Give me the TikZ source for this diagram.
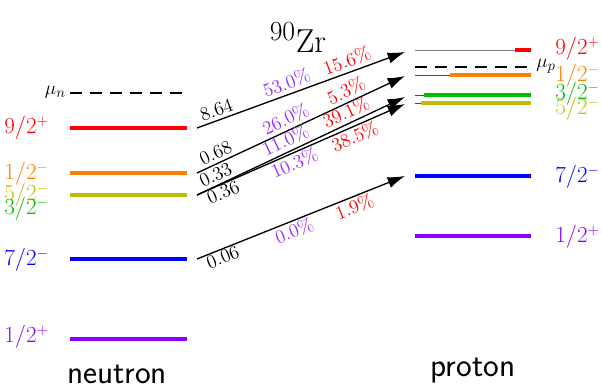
\documentclass[tikz,border=0pt]{standalone}
\usepackage{amsmath}
\usepackage{xcolor}
\usetikzlibrary{arrows.meta, positioning, calc}

\definecolor{lvred}{RGB}{255,0,0}
\definecolor{lvorange}{RGB}{255,128,0}
\definecolor{lvolive}{RGB}{190,190,0}
\definecolor{lvgreen}{RGB}{0,190,0}
\definecolor{lvblue}{RGB}{0,0,255}
\definecolor{lvviolet}{RGB}{140,0,255}
\definecolor{pcviolet}{RGB}{150,40,255}

\begin{document}
\begin{tikzpicture}[x=0.75pt,y=-0.75pt,
  level/.style={line width=2.4pt},
  thinlv/.style={line width=0.7pt},
  fermi/.style={line width=1.4pt,dash pattern=on 9pt off 6pt},
  lab/.style={font=\fontsize{16}{18}\selectfont,anchor=west,inner sep=0pt},
  trans/.style={line width=1pt,-{Latex[length=13pt,width=8.5pt]}},
  num/.style={font=\fontsize{15.5}{18}\selectfont,sloped,inner sep=2.5pt},
  under/.style={below,inner sep=1pt},
  pctv/.style={num,text=pcviolet},
  pctr/.style={num,text=lvred}]
  \useasboundingbox (0,0) rectangle (602,391);

  % Title
  \node[font=\fontsize{28}{32}\selectfont] (title) at (298,38) {$^{90}\mathrm{Zr}$};

  % Neutron levels
  \draw[fermi] (70,93) -- (187,93);
  \node[anchor=east,inner sep=0pt,font=\fontsize{15}{17}\selectfont] (mun) at (66,92) {$\mu_n$};
  \draw[level,lvred] (70,128) -- (187,128);
  \draw[level,lvorange] (70,173) -- (187,173);
  \draw[level,lvgreen] (70,195) -- (187,195);
  \draw[level,lvolive] (70,195) -- (187,195);
  \draw[level,lvblue] (70,259) -- (187,259);
  \draw[level,lvviolet] (70,339) -- (187,339);

  \node[lab,text=lvred] (nl92) at (4,128) {$9/2^{+}$};
  \node[lab,text=lvorange] (nl12m) at (4,174) {$1/2^{-}$};
  \node[lab,text=lvolive] (nl52) at (4,195) {$5/2^{-}$};
  \node[lab,text=lvgreen] (nl32) at (4,209) {$3/2^{-}$};
  \node[lab,text=lvblue] (nl72) at (4,260) {$7/2^{-}$};
  \node[lab,text=lvviolet] (nl12p) at (4,337) {$1/2^{+}$};

  % Proton levels (thin = full, thick = filled part)
  \draw[thinlv,gray] (415,50) -- (531,50);
  \draw[level,lvred] (515,50) -- (531,50);
  \draw[fermi] (415,67) -- (531,67);
  \node[anchor=west,inner sep=0pt,font=\fontsize{15}{17}\selectfont] (mup) at (536,66) {$\mu_p$};
  \draw[thinlv,black!70] (415,75) -- (531,75);
  \draw[level,lvorange] (450,75) -- (531,75);
  \draw[thinlv,black!70] (415,95) -- (531,95);
  \draw[level,lvgreen] (424,95) -- (531,95);
  \draw[thinlv,black!70] (415,103) -- (531,103);
  \draw[level,lvolive] (421,103) -- (531,103);
  \draw[level,lvblue] (415,176) -- (531,176);
  \draw[level,lvviolet] (415,236) -- (531,236);

  \node[lab,text=lvred] (pl92) at (555,49) {$9/2^{+}$};
  \node[lab,text=lvorange] (pl12m) at (555,76) {$1/2^{-}$};
  \node[lab,text=lvgreen] (pl32) at (555,94) {$3/2^{-}$};
  \node[lab,text=lvolive] (pl52) at (555,109) {$5/2^{-}$};
  \node[lab,text=lvblue] (pl72) at (555,177) {$7/2^{-}$};
  \node[lab,text=lvviolet] (pl12p) at (555,237) {$1/2^{+}$};

  % Arrow ends
  \coordinate (n92) at (197,128);
  \coordinate (n12) at (197,173);
  \coordinate (n52) at (197,195);
  \coordinate (n72) at (197,259);
  \coordinate (p92) at (405,52);
  \coordinate (p12) at (405,76);
  \coordinate (p32) at (405,97);
  \coordinate (p52) at (405,104);
  \coordinate (p72) at (405,176);

  % Transitions
  \draw[trans] (n92) -- (p92)
    node[num,pos=0.11,above] (a92) {$8.64$}
    node[pctv,pos=0.45,above] (b92) {$53.0\%$}
    node[pctr,pos=0.74,above] (c92) {$15.6\%$};
  \draw[trans] (n12) -- (p12)
    node[num,pos=0.11,above] (a12) {$0.68$}
    node[pctv,pos=0.45,above] (b12) {$26.0\%$}
    node[pctr,pos=0.74,above] (c12) {$5.3\%$};
  \draw[trans] (n52) -- (p32)
    node[num,pos=0.11,above] (a32) {$0.33$}
    node[pctv,pos=0.45,above] (b32) {$11.0\%$}
    node[pctr,pos=0.74,above] (c32) {$39.1\%$};
  \draw[trans] (n52) -- (p52)
    node[num,pos=0.11,under] (a52) {$0.36$}
    node[pctv,pos=0.45,under] (b52) {$10.3\%$}
    node[pctr,pos=0.74,under] (c52) {$38.5\%$};
  \draw[trans] (n72) -- (p72)
    node[num,pos=0.11,under] (a72) {$0.06$}
    node[pctv,pos=0.45,under] (b72) {$0.0\%$}
    node[pctr,pos=0.74,under] (c72) {$1.9\%$};

  % Axis names
  \node[font=\fontsize{25}{30}\selectfont\sffamily] (neu) at (117,374) {neutron};
  \node[font=\fontsize{25}{30}\selectfont\sffamily] (pro) at (473,371) {proton};
\end{tikzpicture}
\end{document}
